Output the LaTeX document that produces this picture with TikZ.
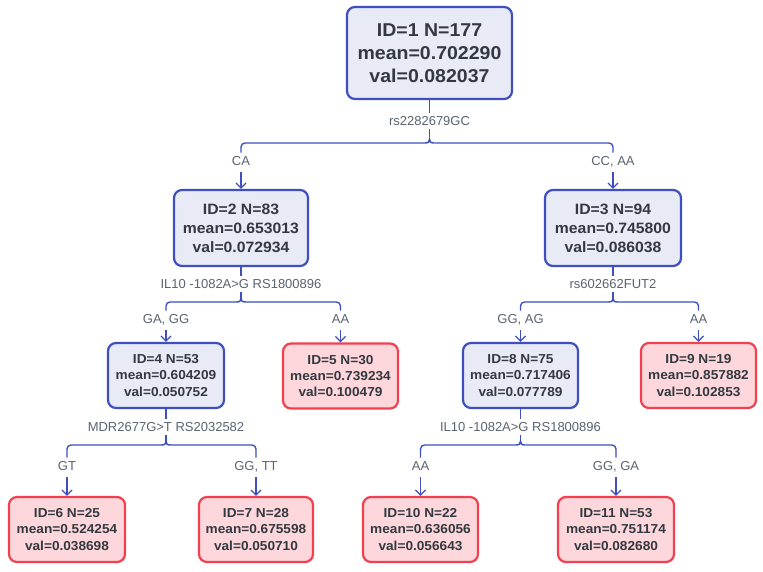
\documentclass[tikz,border=0pt]{standalone}
\usepackage{fontspec}
\setmainfont{Liberation Sans}
\newfontfamily\boxfont{Liberation Sans}[FakeStretch=1.05]
\usetikzlibrary{arrows.meta,calc}
\definecolor{nblue}{HTML}{3F4FBF}
\definecolor{nfill}{HTML}{E8EAF6}
\definecolor{nred}{HTML}{F2404F}
\definecolor{rfill}{HTML}{FDD7DB}
\definecolor{txt}{HTML}{333940}
\definecolor{lbl}{HTML}{5A6470}
\tikzset{
  tnode/.style={draw, rounded corners=8pt, line width=2.2pt, align=center, text=txt, inner sep=0pt},
  innerbox/.style={tnode, draw=nblue, fill=nfill},
  leafbox/.style={tnode, draw=nred, fill=rfill},
  bigtxt/.style={font=\boxfont\fontsize{18.6}{23}\selectfont\bfseries},
  midtxt/.style={font=\boxfont\fontsize{15}{19}\selectfont\bfseries},
  smalltxt/.style={font=\boxfont\fontsize{13}{16.3}\selectfont\bfseries},
  lbox/.style={minimum width=115pt, minimum height=65pt, smalltxt},
  splitlbl/.style={text=lbl, font=\fontsize{13}{15}\selectfont, text height=9.5pt, text depth=0pt, inner sep=3pt},
  condlbl/.style={text=lbl, font=\fontsize{13}{15}\selectfont, text height=9.5pt, text depth=0pt, inner sep=3.5pt},
  conn/.style={draw=nblue, line width=1.4pt},
  arr/.style={conn, shorten <=3pt, -{Straight Barb[length=5pt,width=10pt,line width=1.3pt]}},
}
\newcommand{\bracebar}[3]{%
  \draw[conn, rounded corners=4pt] (#2.north) |- ($(#1)+(-5,4)$);
  \draw[conn, rounded corners=4pt] (#3.north) |- ($(#1)+(5,4)$);
  \draw[conn] ($(#1)+(-5,4)$) .. controls ($(#1)+(-1,4)$) and ($(#1)+(0,3)$) .. (#1)
     .. controls ($(#1)+(0,3)$) and ($(#1)+(1,4)$) .. ($(#1)+(5,4)$);
}
\begin{document}
\begin{tikzpicture}[x=1pt,y=-1pt]
\useasboundingbox[fill=white] (0,0) rectangle (763,571);

% nodes
\node[innerbox, bigtxt, minimum width=165pt, minimum height=92pt] (b1) at (429.5,53) {ID=1 N=177\\mean=0.702290\\val=0.082037};
\node[innerbox, midtxt, minimum width=134pt, minimum height=76pt] (b2) at (241,228) {ID=2 N=83\\mean=0.653013\\val=0.072934};
\node[innerbox, midtxt, minimum width=136pt, minimum height=76pt] (b3) at (613,228) {ID=3 N=94\\mean=0.745800\\val=0.086038};
\node[innerbox, lbox, minimum width=116pt] (b4) at (166,375.5) {ID=4 N=53\\mean=0.604209\\val=0.050752};
\node[leafbox, lbox] (b5) at (340.5,376) {ID=5 N=30\\mean=0.739234\\val=0.100479};
\node[innerbox, lbox] (b8) at (520.5,375.5) {ID=8 N=75\\mean=0.717406\\val=0.077789};
\node[leafbox, lbox] (b9) at (698.5,375.5) {ID=9 N=19\\mean=0.857882\\val=0.102853};
\node[leafbox, lbox, minimum width=116pt] (b6) at (67,529.5) {ID=6 N=25\\mean=0.524254\\val=0.038698};
\node[leafbox, lbox, minimum width=114pt] (b7) at (256,529.5) {ID=7 N=28\\mean=0.675598\\val=0.050710};
\node[leafbox, lbox] (b10) at (420.5,529.5) {ID=10 N=22\\mean=0.636056\\val=0.056643};
\node[leafbox, lbox, minimum width=116pt] (b11) at (616,529.5) {ID=11 N=53\\mean=0.751174\\val=0.082680};

% split 1
\node[splitlbl] (s1) at (429.5,121) {rs2282679GC};
\coordinate (k1) at (429.5,139);
\node[condlbl] (c2) at (241,161) {CA};
\node[condlbl] (c3) at (613,161) {CC, AA};
\draw[conn] (b1.south) -- (s1.north);
\draw[conn] (s1.south) -- (k1);
\bracebar{k1}{c2}{c3}
\draw[arr] (c2.south) -- (b2.north);
\draw[arr] (c3.south) -- (b3.north);

% split 2
\node[splitlbl] (s2) at (241,284) {IL10 -1082A>G RS1800896};
\coordinate (k2) at (241,298);
\node[condlbl] (c4) at (166,319) {GA, GG};
\node[condlbl] (c5) at (340.5,319) {AA};
\draw[conn] (b2.south) -- (s2.north);
\draw[conn] (s2.south) -- (k2);
\bracebar{k2}{c4}{c5}
\draw[arr] (c4.south) -- (b4.north);
\draw[arr] (c5.south) -- (b5.north);

% split 3
\node[splitlbl] (s3) at (613,284) {rs602662FUT2};
\coordinate (k3) at (613,298);
\node[condlbl] (c8) at (520.5,319) {GG, AG};
\node[condlbl] (c9) at (698.5,319) {AA};
\draw[conn] (b3.south) -- (s3.north);
\draw[conn] (s3.south) -- (k3);
\bracebar{k3}{c8}{c9}
\draw[arr] (c8.south) -- (b8.north);
\draw[arr] (c9.south) -- (b9.north);

% split 4
\node[splitlbl] (s4) at (166,427) {MDR2677G>T RS2032582};
\coordinate (k4) at (166,441);
\node[condlbl] (c6) at (67,466) {GT};
\node[condlbl] (c7) at (256,466) {GG, TT};
\draw[conn] (b4.south) -- (s4.north);
\draw[conn] (s4.south) -- (k4);
\bracebar{k4}{c6}{c7}
\draw[arr] (c6.south) -- (b6.north);
\draw[arr] (c7.south) -- (b7.north);

% split 8
\node[splitlbl] (s8) at (520.5,427) {IL10 -1082A>G RS1800896};
\coordinate (k8) at (520.5,441);
\node[condlbl] (c10) at (420.5,466) {AA};
\node[condlbl] (c11) at (616,466) {GG, GA};
\draw[conn] (b8.south) -- (s8.north);
\draw[conn] (s8.south) -- (k8);
\bracebar{k8}{c10}{c11}
\draw[arr] (c10.south) -- (b10.north);
\draw[arr] (c11.south) -- (b11.north);
\end{tikzpicture}
\end{document}
